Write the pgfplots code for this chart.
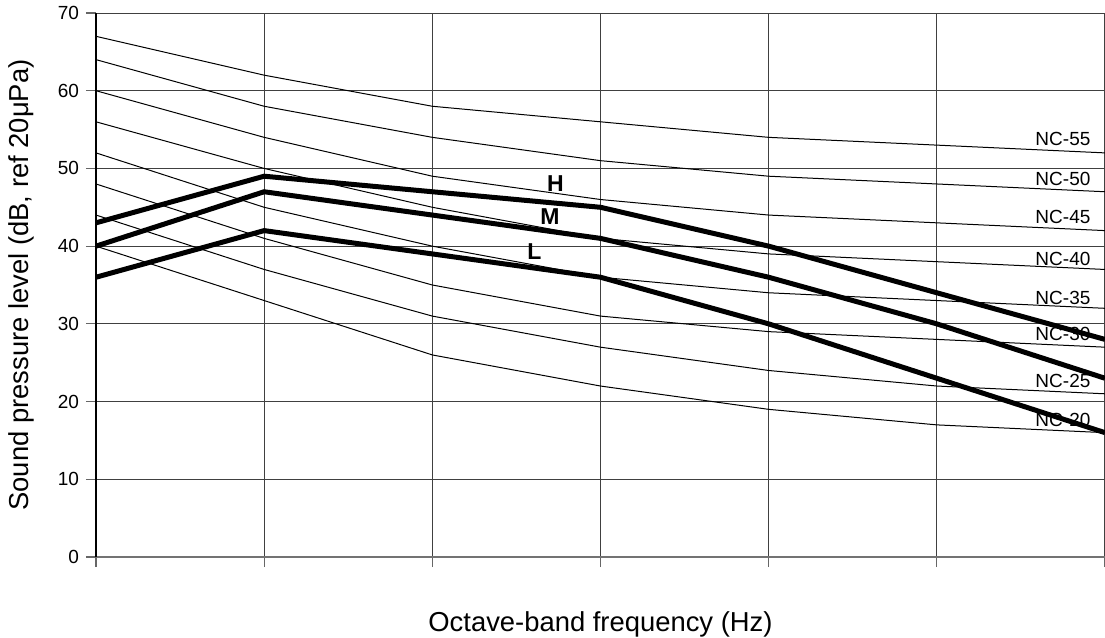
\documentclass[border=0pt]{standalone}
\usepackage{pgfplots}
\pgfplotsset{compat=1.18}
\usepackage{fontspec}
\setmainfont{Liberation Sans}

% Octave bands 125 Hz ... 8 kHz at positions 0..6
\pgfplotstableread{
x  nc20 nc25 nc30 nc35 nc40 nc45 nc50 nc55 H  M  L
0  40   44   48   52   56   60   64   67   43 40 36
1  33   37   41   45   50   54   58   62   49 47 42
2  26   31   35   40   45   49   54   58   47 44 39
3  22   27   31   36   41   46   51   56   45 41 36
4  19   24   29   34   39   44   49   54   40 36 30
5  17   22   28   33   38   43   48   53   34 30 23
6  16   21   27   32   37   42   47   52   28 23 16
}\nctable

\begin{document}
\begin{tikzpicture}
\begin{axis}[
  scale only axis,
  width=504.5pt, height=272pt,
  xmin=0, xmax=6, ymin=0, ymax=70,
  xtick={0,1,2,3,4,5,6}, xticklabels={},
  ytick={0,10,...,70},
  axis x line=bottom, axis y line=left,
  axis line style={-, line width=0.6pt},
  x axis line style={black!55},
  y axis line style={black},
  tick align=outside,
  major tick length=5pt,
  tick style={black!60, line width=0.6pt},
  grid=major,
  major grid style={black!75, line width=0.5pt},
  tick label style={font=\fontsize{9.5}{11}\selectfont},
  /pgf/number format/assume math mode=true,
  yticklabel style={xshift=0pt},
  xlabel={Octave-band frequency (Hz)},
  ylabel={Sound pressure level (dB, ref 20μPa)},
  label style={font=\fontsize{13.7}{16}\selectfont},
  xlabel style={yshift=-12pt},
  ylabel style={yshift=5pt},
  clip=false,
]
\foreach \c in {nc20,nc25,nc30,nc35,nc40,nc45,nc50,nc55}{
  \addplot[black, line width=0.5pt] table[x=x, y=\c] {\nctable};
}
\addplot[black, line width=2.5pt] table[x=x, y=H] {\nctable};
\addplot[black, line width=2.5pt] table[x=x, y=M] {\nctable};
\addplot[black, line width=2.5pt] table[x=x, y=L] {\nctable};

\begin{scope}[every node/.style={font=\fontsize{9.5}{11}\selectfont, inner sep=0pt}]
\node at (axis cs:5.75,53.85) {NC-55};
\node at (axis cs:5.75,48.7) {NC-50};
\node at (axis cs:5.75,43.7) {NC-45};
\node at (axis cs:5.75,38.3) {NC-40};
\node at (axis cs:5.75,33.3) {NC-35};
\node at (axis cs:5.75,28.7) {NC-30};
\node at (axis cs:5.75,22.6) {NC-25};
\node at (axis cs:5.75,17.6) {NC-20};
\end{scope}
\begin{scope}[every node/.style={font=\bfseries\fontsize{11.5}{13}\selectfont, inner sep=0pt}]
\node at (axis cs:2.732,48.06) {H};
\node at (axis cs:2.70,43.8) {M};
\node at (axis cs:2.607,39.3) {L};
\end{scope}
\end{axis}
\pgfresetboundingbox
\path (-48pt,-40.5pt) rectangle (504.5pt,278.5pt);
\end{tikzpicture}
\end{document}
